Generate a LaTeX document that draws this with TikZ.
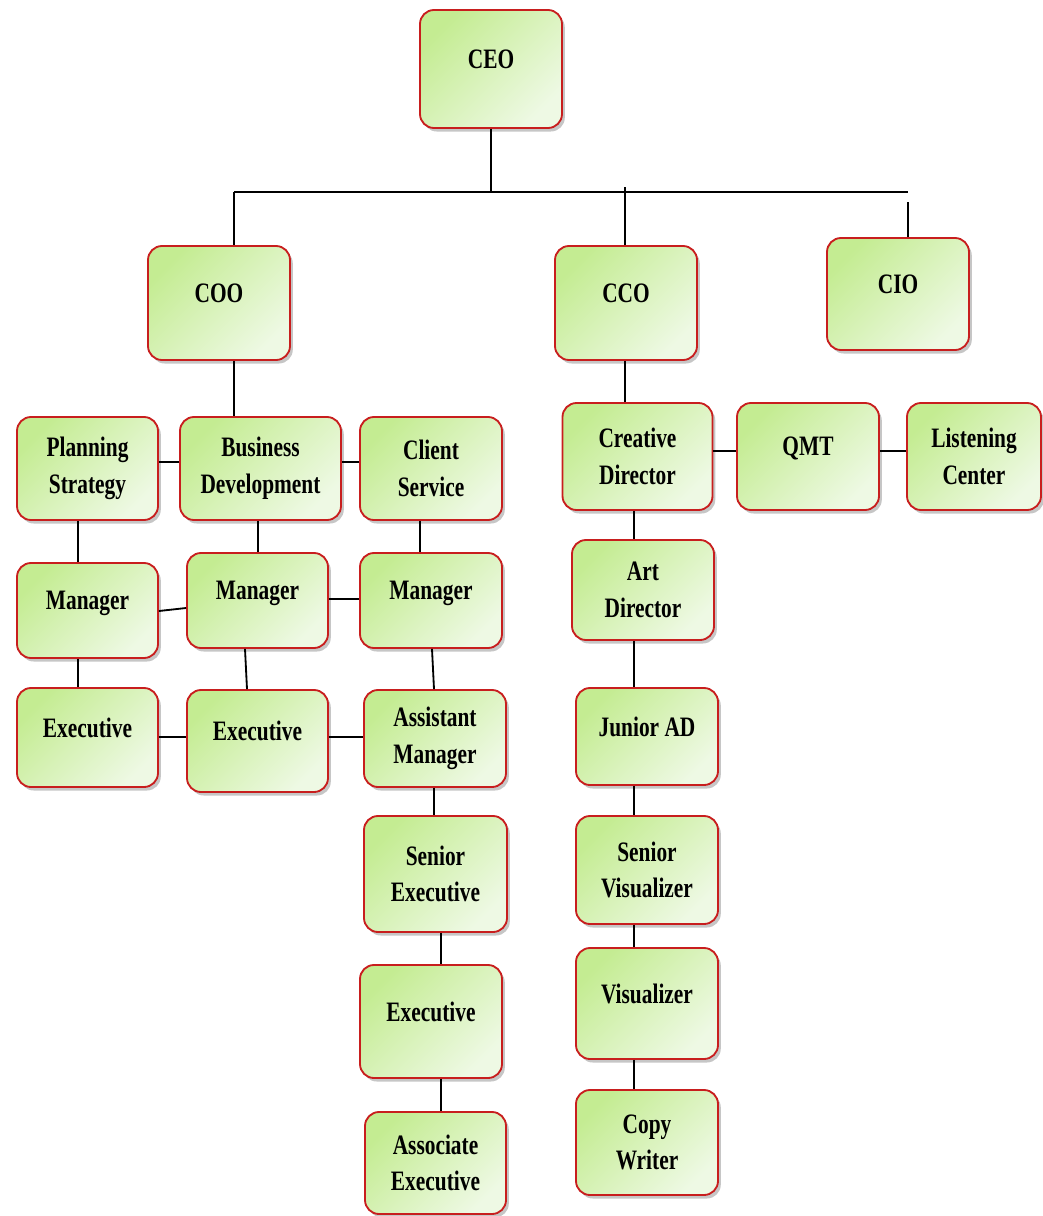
\documentclass[tikz,border=0pt]{standalone}
\usepackage{fontspec}
\newfontfamily\orgfont{Liberation Serif}[FakeStretch=0.76]
\usetikzlibrary{shadows}

\definecolor{boxtop}{RGB}{196,236,146}
\definecolor{boxbot}{RGB}{238,249,228}
\definecolor{boxline}{RGB}{200,30,30}

\tikzset{
  post/.style={draw=boxline, line width=1.3pt, rounded corners=0.35cm,
    top color=boxtop, bottom color=boxbot, shading angle=45,
    drop shadow={opacity=0.45, shadow xshift=2pt, shadow yshift=-2.5pt},
    align=center, inner sep=0pt,
    font=\orgfont\bfseries\fontsize{20}{26}\selectfont},
  dims/.style 2 args={minimum width=#1*0.025cm, minimum height=#2*0.025cm},
  oneline/.style={text depth=0.5cm},
  link/.style={line width=1.3pt}
}

\begin{document}
\begin{tikzpicture}[x=0.025cm,y=-0.025cm]
\useasboundingbox (0,0) rectangle (1042,1216);

\node[post,dims={142}{118},oneline] (ceo) at (491,69) {CEO};
\node[post,dims={142}{114},oneline] (coo) at (219,303) {COO};
\node[post,dims={142}{114},oneline] (cco) at (626,303) {CCO};
\node[post,dims={142}{112},oneline] (cio) at (898,294) {CIO};

\node[post,dims={141}{103}] (plan) at (87.5,468.5) {Planning\\Strategy};
\node[post,dims={161}{103}] (bdev) at (260.5,468.5) {Business\\Development};
\node[post,dims={142}{103}] (client) at (431,468.5) {Client\\Service};

\node[post,dims={141}{95},oneline] (mgrA) at (87.5,610.5) {Manager};
\node[post,dims={141}{95},oneline] (mgrB) at (257.5,600.5) {Manager};
\node[post,dims={142}{95},oneline] (mgrC) at (431,600.5) {Manager};

\node[post,dims={141}{99},oneline] (exeA) at (87.5,737.5) {Executive};
\node[post,dims={141}{102},oneline] (exeB) at (257.5,741) {Executive};
\node[post,dims={142}{97}] (asst) at (435,738.5) {Assistant\\Manager};

\node[post,dims={143}{116}] (senexe) at (435.5,874) {Senior\\Executive};
\node[post,dims={142}{113},oneline] (exeC) at (431,1021.5) {Executive};
\node[post,dims={141}{102}] (assoc) at (435.5,1163) {Associate\\Executive};

\node[post,dims={150}{107}] (creat) at (637.5,456.5) {Creative\\Director};
\node[post,dims={142}{107},oneline] (qmt) at (808,456.5) {QMT};
\node[post,dims={134}{107}] (listen) at (974,456.5) {Listening\\Center};

\node[post,dims={142}{100}] (artd) at (643,590) {Art\\Director};
\node[post,dims={142}{97},oneline] (junad) at (647,736.5) {Junior AD};
\node[post,dims={142}{108}] (senvis) at (647,870) {Senior\\Visualizer};
\node[post,dims={142}{111},oneline] (visual) at (647,1003.5) {Visualizer};
\node[post,dims={142}{105}] (copyw) at (647,1142.5) {Copy\\Writer};

\coordinate (busL) at (234,192);
\coordinate (busR) at (908,192);
\coordinate (ccoTop) at (625,187);
\coordinate (cioTop) at (908,202);

\draw[link] (busL) -- (busR);
\draw[link] (ceo.south) -- (ceo.south |- busL);
\draw[link] (busL) -- (busL |- coo.north);
\draw[link] (ccoTop) -- (ccoTop |- cco.north);
\draw[link] (cioTop) -- (cioTop |- cio.north);

\draw[link] (coo.south -| 234,0) -- (bdev.north -| 234,0);
\draw[link] (plan.east |- 0,462) -- (bdev.west |- 0,462);
\draw[link] (bdev.east |- 0,462) -- (client.west |- 0,462);
\draw[link] (plan.south -| 78,0) -- (mgrA.north -| 78,0);
\draw[link] (bdev.south -| 258,0) -- (mgrB.north -| 258,0);
\draw[link] (client.south -| 420,0) -- (mgrC.north -| 420,0);
\draw[link] (mgrA.east |- 0,611) -- (mgrB.west |- 0,608);
\draw[link] (mgrB.east |- 0,599) -- (mgrC.west |- 0,599);
\draw[link] (mgrA.south -| 78,0) -- (exeA.north -| 78,0);
\draw[link] (mgrB.south -| 245,0) -- (exeB.north -| 247,0);
\draw[link] (mgrC.south -| 432,0) -- (asst.north -| 434,0);
\draw[link] (exeA.east |- 0,737) -- (exeB.west |- 0,737);
\draw[link] (exeB.east |- 0,737) -- (asst.west |- 0,737);
\draw[link] (asst.south -| 434,0) -- (senexe.north -| 434,0);
\draw[link] (senexe.south -| 441,0) -- (exeC.north -| 441,0);
\draw[link] (exeC.south -| 441,0) -- (assoc.north -| 441,0);

\draw[link] (cco.south -| 625,0) -- (creat.north -| 625,0);
\draw[link] (creat.east |- 0,451) -- (qmt.west |- 0,451);
\draw[link] (qmt.east |- 0,451) -- (listen.west |- 0,451);
\draw[link] (creat.south -| 634,0) -- (artd.north -| 634,0);
\draw[link] (artd.south -| 634,0) -- (junad.north -| 634,0);
\draw[link] (junad.south -| 634,0) -- (senvis.north -| 634,0);
\draw[link] (senvis.south -| 634,0) -- (visual.north -| 634,0);
\draw[link] (visual.south -| 634,0) -- (copyw.north -| 634,0);

\end{tikzpicture}
\end{document}
